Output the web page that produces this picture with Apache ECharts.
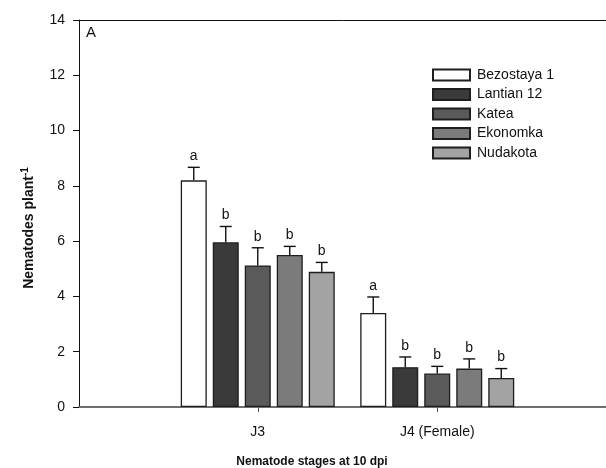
<!DOCTYPE html>
<html>
<head>
<meta charset="utf-8">
<script src="https://cdn.jsdelivr.net/npm/echarts@6/dist/echarts.min.js"></script>
<style>
  html, body { margin: 0; padding: 0; background: #fff; }
  #chart { width: 606px; height: 468px; }
</style>
</head>
<body>
<div id="chart"></div>
<script>
// Nematode counts per plant at 10 dpi, by developmental stage and cultivar
const categories = ['J3', 'J4 (Female)'];
const cultivars = ['Bezostaya 1', 'Lantian 12', 'Katea', 'Ekonomka', 'Nudakota'];

// Means
const bezostaya = [8.2, 3.4];
const lantian   = [5.96, 1.44];
const katea     = [5.12, 1.21];
const ekonomka  = [5.5, 1.39];
const nudakota  = [4.89, 1.05];

// Standard errors (upper bars)
const bezostayaSE = [0.47, 0.58];
const lantianSE   = [0.57, 0.37];
const kateaSE     = [0.64, 0.26];
const ekonomkaSE  = [0.31, 0.35];
const nudakotaSE  = [0.34, 0.34];

// Significance letters
const bezostayaSig = ['a', 'a'];
const lantianSig   = ['b', 'b'];
const kateaSig     = ['b', 'b'];
const ekonomkaSig  = ['b', 'b'];
const nudakotaSig  = ['b', 'b'];

const yTicks = [0, 2, 4, 6, 8, 10, 12, 14];

const means = [bezostaya, lantian, katea, ekonomka, nudakota];
const errors = [bezostayaSE, lantianSE, kateaSE, ekonomkaSE, nudakotaSE];
const letters = [bezostayaSig, lantianSig, kateaSig, ekonomkaSig, nudakotaSig];
const fills = ['#ffffff', '#3a3a3a', '#5a5a5a', '#7b7b7b', '#a3a3a3'];

const BAR_W = 26;
const BAR_GAP = 6;
const FONT = 'Liberation Sans, Arial, sans-serif';

const chart = echarts.init(document.getElementById('chart'), null, { renderer: 'canvas' });

const barSeries = cultivars.map((name, i) => ({
  name: name,
  type: 'bar',
  xAxisIndex: 2,
  yAxisIndex: 1,
  barWidth: BAR_W,
  barGap: (BAR_GAP / BAR_W * 100).toFixed(2) + '%',
  data: means[i],
  itemStyle: { color: fills[i], borderColor: '#1e1e1e', borderWidth: 1.3 },
  emphasis: { disabled: true },
  z: 2
}));

const errSeries = cultivars.map((name, i) => ({
  name: 'se-' + i,
  type: 'custom',
  xAxisIndex: 2,
  yAxisIndex: 1,
  data: means[i].map((v, c) => [c, v, errors[i][c]]),
  encode: { x: 0, y: 1 },
  z: 5,
  silent: true,
  renderItem: function (params, api) {
    const c = api.value(0);
    const v = api.value(1);
    const e = api.value(2);
    const letter = letters[i][c];
    const base = api.coord([c, v]);
    const top = api.coord([c, v + e]);
    const x = base[0] + (i - 2) * (BAR_W + BAR_GAP);
    const style = { stroke: '#111', lineWidth: 1.4 };
    return {
      type: 'group',
      children: [
        { type: 'line', shape: { x1: x, y1: base[1], x2: x, y2: top[1] }, style: style },
        { type: 'line', shape: { x1: x - 6, y1: top[1], x2: x + 6, y2: top[1] }, style: style },
        {
          type: 'text',
          style: {
            x: x, y: top[1] - 4, text: letter,
            textAlign: 'center', textVerticalAlign: 'bottom',
            font: '14px ' + FONT, fill: '#111'
          }
        }
      ]
    };
  }
}));

chart.setOption({
  animation: false,
  backgroundColor: '#fff',
  grid: [
    { left: 79, right: 0, top: 20, bottom: 61 },
    { left: 168, right: 79, top: 20, bottom: 61 }
  ],
  legend: {
    data: cultivars,
    orient: 'vertical',
    left: 432,
    top: 68,
    padding: 0,
    itemWidth: 37,
    itemHeight: 11,
    itemGap: 5.5,
    icon: 'rect',
    textStyle: { fontFamily: FONT, fontSize: 14, color: '#111', padding: [0, 0, 0, 2] },
    selectedMode: false
  },
  xAxis: [
    {
      // baseline
      gridIndex: 0, type: 'value', min: 0, max: 1, position: 'bottom',
      axisLine: { show: true, lineStyle: { color: '#6e6e6e', width: 2 } },
      axisTick: { show: false }, axisLabel: { show: false }, splitLine: { show: false }
    },
    {
      // top frame
      gridIndex: 0, type: 'value', min: 0, max: 1, position: 'top',
      axisLine: { show: true, lineStyle: { color: '#111', width: 1 } },
      axisTick: { show: false }, axisLabel: { show: false }, splitLine: { show: false }
    },
    {
      gridIndex: 1, type: 'category', data: categories,
      axisLine: { show: false },
      axisTick: { show: true, alignWithLabel: true, length: 5, lineStyle: { color: '#555', width: 1 } },
      axisLabel: { margin: 18, fontFamily: FONT, fontSize: 14, color: '#111' }
    }
  ],
  yAxis: [
    {
      gridIndex: 0, type: 'value', min: yTicks[0], max: yTicks[yTicks.length - 1], interval: 2,
      axisLine: { show: true, lineStyle: { color: '#111', width: 1 } },
      axisTick: { show: true, inside: false, length: 6, lineStyle: { color: '#111' } },
      axisLabel: { margin: 14, fontFamily: FONT, fontSize: 14, color: '#111' },
      splitLine: { show: false }
    },
    {
      gridIndex: 1, type: 'value', min: yTicks[0], max: yTicks[yTicks.length - 1], interval: 2,
      show: false
    }
  ],
  graphic: [
    {
      type: 'text', left: 86, top: 25,
      style: { text: 'A', font: '15px ' + FONT, fill: '#111' }
    },
    {
      type: 'text', x: 29, y: 228, rotation: Math.PI / 2,
      style: {
        text: 'Nematodes plant{sup|-1}',
        font: 'bold 14px ' + FONT, fill: '#111',
        textAlign: 'center', textVerticalAlign: 'middle',
        rich: {
          sup: { font: 'bold 10px ' + FONT, fill: '#111', verticalAlign: 'top', padding: [0, 0, 8, 0] }
        }
      }
    },
    {
      type: 'text', x: 312, y: 462,
      style: {
        text: 'Nematode stages at 10 dpi', font: 'bold 12px ' + FONT, fill: '#111',
        textAlign: 'center', textVerticalAlign: 'middle'
      }
    }
  ],
  series: barSeries.concat(errSeries)
});
</script>
</body>
</html>
